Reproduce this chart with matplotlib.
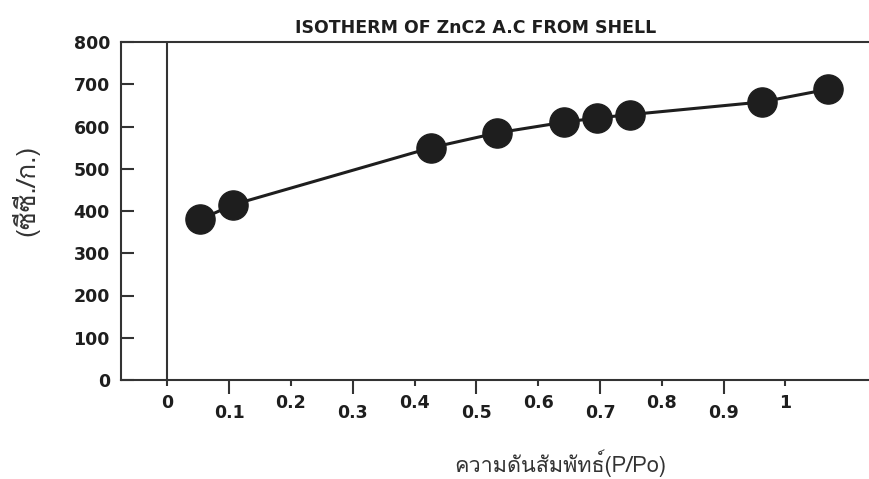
import matplotlib
matplotlib.use("Agg")
import matplotlib.pyplot as plt
from matplotlib import font_manager
from matplotlib.ft2font import FT2Font

# isotherm data
pressure = [0.05, 0.1, 0.4, 0.5, 0.6, 0.65, 0.7, 0.9, 1.0]
volume = [380, 415, 550, 585, 610, 620, 628, 658, 688]
xtick_values = [0, 0.1, 0.2, 0.3, 0.4, 0.5, 0.6, 0.7, 0.8, 0.9, 1]
xtick_labels = ["0", "0.1", "0.2", "0.3", "0.4", "0.5", "0.6", "0.7", "0.8", "0.9", "1"]
ytick_values = [0, 100, 200, 300, 400, 500, 600, 700, 800]

title = "ISOTHERM OF ZnC2 A.C FROM SHELL"
xlabel = "ความดันสัมพัทธ์(P/Po)"
ylabel = "(ซีซี./ก.)"

# in the scan the printed tick marks sit a little tighter than the data scale
tick_scale = 0.936


def find_thai_font():
    for f in font_manager.fontManager.ttflist:
        try:
            if ord("ค") in FT2Font(f.fname).get_charmap():
                return f.name
        except Exception:
            continue
    return "DejaVu Sans"


thai_font = find_thai_font()
plt.rcParams["font.family"] = ["DejaVu Sans"]
ink = "#1e1e1e"

fig = plt.figure(figsize=(8.70, 4.79), dpi=100)
ax = fig.add_axes([121 / 870, 1 - 380 / 479, 1 - 121 / 870, (380 - 42) / 479])

ax.plot(pressure, volume, color=ink, lw=2.2, marker="o", ms=21,
        mfc=ink, mec=ink, zorder=3, clip_on=False)
ax.axvline(0, color="#333333", lw=1.5, zorder=1)

ax.set_xlim(-0.07, 1.064)
ax.set_ylim(0, 800)

for side in ["left", "top", "bottom"]:
    ax.spines[side].set_color("#333333")
    ax.spines[side].set_linewidth(1.5)
ax.spines["right"].set_visible(False)

ax.set_yticks(ytick_values)
ax.set_yticklabels([str(v) for v in ytick_values], fontsize=12.5,
                   fontweight="bold", color=ink)
ax.tick_params(axis="y", direction="in", length=9, width=1.5,
               color="#333333", pad=8)

odd = [i for i in range(len(xtick_values)) if i % 2 == 1]
even = [i for i in range(len(xtick_values)) if i % 2 == 0]
ax.set_xticks([xtick_values[i] * tick_scale for i in odd],
              [xtick_labels[i] for i in odd])
ax.set_xticks([xtick_values[i] * tick_scale for i in even],
              [xtick_labels[i] for i in even], minor=True)
ax.tick_params(axis="x", which="major", direction="out", length=10,
               width=1.5, color="#333333", pad=7, labelsize=12.5)
ax.tick_params(axis="x", which="minor", direction="out", length=4,
               width=1.5, color="#333333", pad=6, labelsize=12.5)
for lab in ax.get_xticklabels(which="both"):
    lab.set_fontweight("bold")
    lab.set_color(ink)

fig.text(476 / 870, 1 - 28 / 479, title, ha="center", va="center",
         fontsize=12.5, fontweight="bold", color=ink)
fig.text(560 / 870, 1 - 463 / 479, xlabel, ha="center", va="center",
         fontsize=15.5, color="#333333", family=[thai_font, "DejaVu Serif"])
fig.text(25 / 870, 1 - 190 / 479, ylabel, ha="center", va="center",
         rotation=90, fontsize=19, color="#333333",
         family=[thai_font, "DejaVu Serif"])

fig.savefig("out.png", dpi=100)
